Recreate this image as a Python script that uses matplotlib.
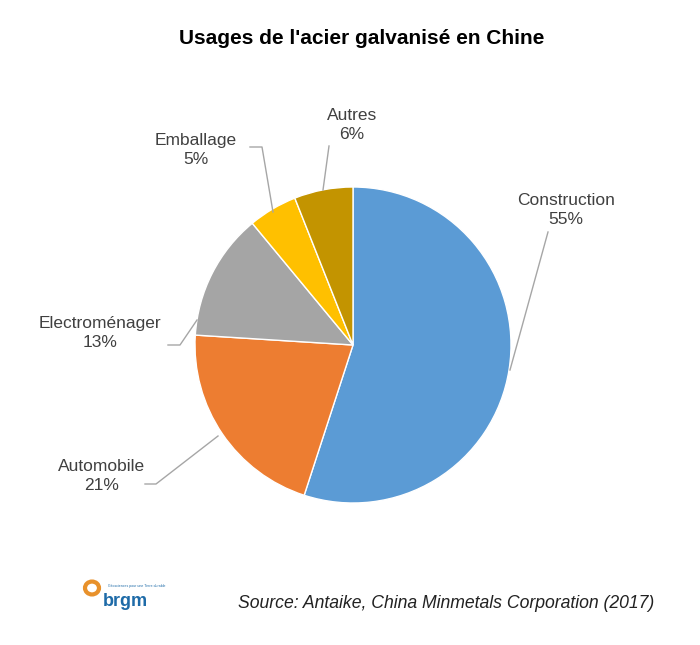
import matplotlib
matplotlib.use("Agg")
import matplotlib.pyplot as plt
from matplotlib.patches import Circle

plt.rcParams['font.family'] = ['Liberation Sans', 'DejaVu Sans']

categories = ["Construction", "Automobile", "Electroménager", "Emballage", "Autres"]
values = [55, 21, 13, 5, 6]
colors = ["#5B9BD5", "#ED7D31", "#A5A5A5", "#FFC000", "#C39400"]

fig = plt.figure(figsize=(7, 6.45), dpi=100)
W, H = 700, 645
cx, cy, r = 353, 345, 158
ax = fig.add_axes([(cx - r) / W, (H - cy - r) / H, 2 * r / W, 2 * r / H])
ax.pie(values, colors=colors, startangle=90, counterclock=False,
       wedgeprops=dict(edgecolor="white", linewidth=1))
ax.set_xlim(-1, 1); ax.set_ylim(-1, 1)
ax.set_aspect("auto")

def p(x, y):
    return ((x - cx) / r, (cy - y) / r)

lc = "#A6A6A6"
specs = [
    ("Construction\n55%", (566, 210), [(548, 232), (510, 370)]),
    ("Autres\n6%", (352, 125), [(329, 146), (323, 190)]),
    ("Emballage\n5%", (196, 150), [(250, 147), (262, 147), (273, 212)]),
    ("Electroménager\n13%", (100, 333), [(168, 345), (180, 345), (197, 320)]),
    ("Automobile\n21%", (102, 476), [(145, 484), (156, 484), (218, 436)]),
]
for txt, lp, pts in specs:
    ax.text(*p(*lp), txt, ha="center", va="center", fontsize=12.5, color="#404040",
            linespacing=1.3, clip_on=False)
    xs, ys = zip(*[p(*q) for q in pts])
    ax.plot(xs, ys, color=lc, lw=1, clip_on=False)

fig.text(362 / W, 1 - 38 / H, "Usages de l'acier galvanisé en Chine",
         ha="center", va="center", fontsize=15, fontweight="bold", color="black")
fig.text(446 / W, 1 - 604 / H, "Source: Antaike, China Minmetals Corporation (2017)",
         ha="center", va="center", fontsize=12.7, style="italic", color="#222222")

fig.patches.append(Circle((92 / W, 1 - 588 / H), 7 / W, transform=fig.transFigure,
                          color="#E8912B", fill=False, lw=3))
fig.text(103 / W, 1 - 601 / H, "brgm", fontsize=13, fontweight="bold",
         color="#1E6BA8", ha="left", va="center")
fig.text(108 / W, 1 - 586 / H, "Géosciences pour une Terre durable", fontsize=2.5,
         color="#1E6BA8", ha="left", va="center")

fig.savefig("out.png", dpi=100, facecolor="white")
